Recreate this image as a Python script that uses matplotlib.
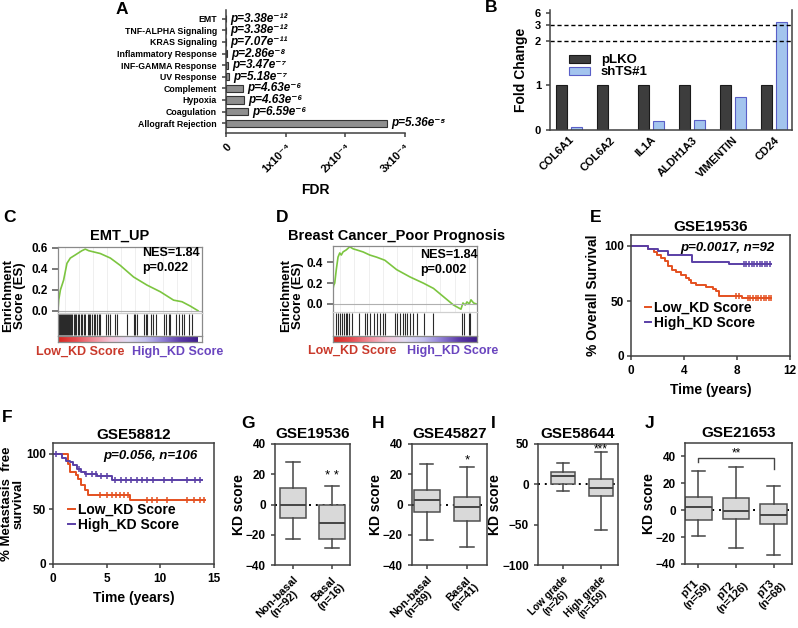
import numpy as np
import matplotlib
matplotlib.use('Agg')
import matplotlib.pyplot as plt
from matplotlib.colors import LinearSegmentedColormap

plt.rcParams['font.family'] = ['Liberation Sans', 'DejaVu Sans']
plt.rcParams['font.weight'] = 'bold'
plt.rcParams['axes.labelweight'] = 'bold'
plt.rcParams['axes.titleweight'] = 'bold'
plt.rcParams['axes.linewidth'] = 1.1
plt.rcParams['axes.edgecolor'] = '#404040'
plt.rcParams['xtick.major.width'] = 1.1
plt.rcParams['ytick.major.width'] = 1.1
plt.rcParams['xtick.major.size'] = 3
plt.rcParams['ytick.major.size'] = 3
plt.rcParams['xtick.color'] = '#404040'
plt.rcParams['ytick.color'] = '#404040'
plt.rcParams['xtick.labelcolor'] = 'black'
plt.rcParams['ytick.labelcolor'] = 'black'

# ---- A: hallmark enrichment
a_terms = ['EMT', 'TNF-ALPHA Signaling', 'KRAS Signaling', 'Inflammatory Response',
           'INF-GAMMA Response', 'UV Response', 'Complement', 'Hypoxia',
           'Coagulation', 'Allograft Rejection']
a_fdr = [0.001e-4, 0.001e-4, 0.004e-4, 0.01e-4, 0.03e-4, 0.05e-4,
         0.28e-4, 0.30e-4, 0.37e-4, 2.7e-4]
a_p = ['p=3.38e⁻¹²', 'p=3.38e⁻¹²', 'p=7.07e⁻¹¹', 'p=2.86e⁻⁸', 'p=3.47e⁻⁷',
       'p=5.18e⁻⁷', 'p=4.63e⁻⁶', 'p=4.63e⁻⁶', 'p=6.59e⁻⁶', 'p=5.36e⁻⁵']
a_ticks = [0, 1e-4, 2e-4, 3e-4]
a_ticklabels = ['0', '1x10⁻⁴', '2x10⁻⁴', '3x10⁻⁴']

# ---- B: fold change
b_genes = ['COL6A1', 'COL6A2', 'IL1A', 'ALDH1A3', 'VIMENTIN', 'CD24']
b_plko = [1, 1, 1, 1, 1, 1]
b_shts = [0.06, 0.01, 0.195, 0.22, 0.75, 3.6]
b_yticks = [0, 1, 2, 3, 6]

# ---- C / D: GSEA running scores
c_x = [0, 0.005, 0.017, 0.040, 0.064, 0.088, 0.124, 0.171, 0.195, 0.219, 0.302,
       0.374, 0.445, 0.540, 0.636, 0.731, 0.826, 0.886, 0.945, 1.0]
c_es = [0, 0.10, 0.196, 0.29, 0.45, 0.50, 0.53, 0.57, 0.585, 0.57, 0.543,
        0.50, 0.43, 0.32, 0.243, 0.18, 0.10, 0.085, 0.044, 0.0]
c_hits = [0.005, 0.012, 0.019, 0.026, 0.033, 0.040, 0.048, 0.055, 0.062, 0.069,
          0.076, 0.083, 0.093, 0.102, 0.112, 0.121, 0.131, 0.143, 0.152, 0.164,
          0.174, 0.183, 0.193, 0.212, 0.221, 0.231, 0.243, 0.255, 0.267, 0.279,
          0.293, 0.302, 0.345, 0.357, 0.369, 0.410, 0.419, 0.493, 0.540, 0.552,
          0.564, 0.612, 0.626, 0.636, 0.664, 0.679, 0.698, 0.755, 0.774, 0.790,
          0.802, 0.843, 0.862, 0.886, 0.898, 0.936, 0.957]
d_x = [0, 0.001, 0.005, 0.012, 0.023, 0.035, 0.047, 0.058, 0.070, 0.093, 0.117,
       0.140, 0.164, 0.210, 0.257, 0.304, 0.362, 0.444, 0.537, 0.631, 0.701,
       0.771, 0.841, 0.893, 0.907, 0.923, 0.935, 0.951, 0.963, 0.981, 1.0]
d_es = [0, 0.15, 0.18, 0.20, 0.33, 0.45, 0.49, 0.47, 0.50, 0.52, 0.55,
        0.53, 0.52, 0.50, 0.47, 0.45, 0.42, 0.33, 0.26, 0.20, 0.15,
        0.07, -0.01, -0.05, 0.01, -0.01, 0.02, 0.0, 0.04, 0.01, 0.0]
d_hits = [0.023, 0.035, 0.051, 0.065, 0.079, 0.089, 0.098, 0.112, 0.136, 0.182,
          0.222, 0.234, 0.257, 0.285, 0.304, 0.327, 0.346, 0.362, 0.432, 0.449,
          0.467, 0.486, 0.502, 0.519, 0.537, 0.556, 0.584, 0.636, 0.696, 0.900,
          0.916, 0.946, 0.958]

# ---- E / F: Kaplan-Meier
e_low_t = [0, 1.25, 1.7, 1.94, 2.3, 2.56, 2.8, 3.06, 3.4, 3.8, 4.17, 4.35, 4.55,
           4.9, 5.66, 6.16, 6.4, 6.66, 8.4, 10.6]
e_low_s = [100, 97.6, 95, 91.8, 89, 86, 82, 78.2, 76, 74, 71, 69, 66.7,
           64.8, 63, 61, 58.8, 54.5, 52.4, 52.4]
e_low_cens = [7.9, 8.15, 8.8, 9.0, 9.2, 9.4, 9.6, 9.8, 10.0, 10.2, 10.4, 10.6]
e_high_t = [0, 1.25, 2.06, 2.8, 4.62, 7.4, 10.6]
e_high_s = [100, 97.6, 95.8, 91.8, 85.2, 83.3, 83.3]
e_high_cens = [8.5, 8.7, 8.9, 9.1, 9.3, 9.5, 9.7, 9.9, 10.1, 10.3, 10.5]

f_low_t = [0, 1.4, 1.6, 2.1, 2.35, 2.65, 3.0, 3.3, 7.2, 14.2]
f_low_s = [100, 91, 83.5, 80.5, 77.5, 71.5, 67, 62.5, 58, 58]
f_low_cens = [4.4, 5.0, 5.5, 5.9, 6.25, 6.6, 7.0, 8.75, 9.2, 9.7, 10.6, 12.5,
              13.1, 13.7, 14.1]
f_high_t = [0, 0.8, 1.25, 1.6, 1.9, 2.25, 2.65, 3.0, 4.06, 5.47, 13.9]
f_high_s = [100, 96, 94, 92.5, 90.4, 86.5, 84, 82, 79.6, 76.6, 76.6]
f_high_cens = [0.3, 2.4, 3.1, 3.6, 4.0, 4.5, 5.0, 5.8, 6.3, 6.8, 7.3, 7.8, 8.3,
               8.8, 9.3, 10.3, 11.1, 12.5, 13.2, 13.7]

# ---- G-J: KD score boxes (whislo, q1, med, q3, whishi)
g_labels = ['Non-basal\n(n=92)', 'Basal\n(n=16)']
g_stats = [[-22.7, -8.9, 0, 10.7, 27.8], [-28.9, -22.7, -12.2, 0, 12]]
h_labels = ['Non-basal\n(n=89)', 'Basal\n(n=41)']
h_stats = [[-23.3, -4.9, 3.3, 9.5, 26.7], [-28.4, -10.7, -1.8, 5.1, 25.1]]
i_labels = ['Low grade\n(n=26)', 'High grade\n(n=159)']
i_stats = [[-8.3, 0, 10.4, 15.8, 27], [-56, -14.2, -5, 6.25, 39.6]]
j_labels = ['pT1\n(n=59)', 'pT2\n(n=126)', 'pT3\n(n=68)']
j_stats = [[-19.25, -7.5, 2.75, 9.5, 29.5], [-28, -6.75, -0.25, 8.75, 32],
           [-33.5, -10, -3.5, 4.5, 18.25]]
j_bracket = [35.5, 38.5, 31]

RED = '#e4501f'
PURPLE = '#5a3fa6'

W, H = 798, 628
fig = plt.figure(figsize=(W / 100, H / 100), dpi=100)


def box(l, t, r, b):
    return fig.add_axes([l / W, 1 - b / H, (r - l) / W, (b - t) / H])


def ftext(x, y, s, **kw):
    fig.text(x / W, 1 - y / H, s, **kw)


def letter(x, y, s):
    ftext(x, y, s, fontsize=12.5, fontweight='bold', va='center', ha='left')


# ================= A
axA = box(226, 10, 405, 133)
ya = np.arange(len(a_terms))
axA.barh(ya, a_fdr, height=0.62, color='#8f8f8f', edgecolor='#333333', linewidth=0.8)
axA.set_xlim(0, 3e-4)
axA.set_ylim(len(a_terms) - 0.15, -0.75)
axA.set_yticks(ya)
axA.set_yticklabels(a_terms, fontsize=6.3)
axA.set_xticks(a_ticks)
axA.set_xticklabels(a_ticklabels, rotation=45, ha='right', rotation_mode='anchor', fontsize=8)
for i, (v, p) in enumerate(zip(a_fdr, a_p)):
    axA.text(v + 0.07e-4, i, p, fontsize=8.5, style='italic', va='center', clip_on=False)
axA.spines['top'].set_visible(False)
axA.spines['right'].set_visible(False)
axA.set_xlabel('FDR', fontsize=10, labelpad=6)
letter(116, 9, 'A')

# ================= B
brk_v = [-1, 0, 2, 3, 10]
brk_p = [-1, 0, 2, 2.36, 2.99]


def fwd(v):
    return np.interp(v, brk_v, brk_p)


def inv(p):
    return np.interp(p, brk_p, brk_v)


axB = box(550, 10, 792, 130)
axB.set_yscale('function', functions=(fwd, inv))
xb = np.arange(len(b_genes))
axB.bar(xb - 0.18, b_plko, width=0.26, color='#3d3d3d', edgecolor='#1a1a1a',
        linewidth=0.8, label='pLKO')
axB.bar(xb + 0.18, b_shts, width=0.26, color='#a3c4ee', edgecolor='#5a5fc8',
        linewidth=0.8, label='shTS#1')
for yv in (2, 3):
    axB.axhline(yv, color='black', ls='--', lw=1, dashes=(3, 2))
axB.set_ylim(0, 6.7)
axB.set_xlim(-0.46, 5.44)
axB.set_yticks(b_yticks)
axB.set_yticklabels([str(v) for v in b_yticks], fontsize=8)
axB.yaxis.set_minor_locator(plt.NullLocator())
axB.set_xticks(xb)
axB.set_xticklabels(b_genes, rotation=45, ha='right', rotation_mode='anchor', fontsize=8)
axB.tick_params(axis='x', length=0)
axB.spines['top'].set_visible(False)
axB.set_ylabel('Fold Change', fontsize=10, labelpad=5)
axB.legend(loc='center left', bbox_to_anchor=(0.03, 0.53), frameon=False, fontsize=9.5,
           handlelength=1.6, handleheight=0.55, labelspacing=0.0, handletextpad=0.8)
letter(485, 8, 'B')

# ================= C, D
gsea_cmap = LinearSegmentedColormap.from_list(
    'gsea', ['#d7261e', '#e64a4e', '#f08a96', '#f4c6d8', '#e2dcf3', '#c3c1ee',
             '#8f7fd6', '#5b3aa8', '#3f1d8a'])


def draw_gsea(l, r, t, b_es, b_hit, b_bar, xs, ys, hits, xmax, ylim, yticks,
              nes_x, nes_y):
    ax = box(l, t, r, b_es)
    ax.plot(xs, ys, color='#7cc540', lw=1.2)
    ax.axhline(0, color='#b0b0b0', lw=0.8)
    ax.set_xlim(0, xmax)
    ax.set_ylim(*ylim)
    ax.set_xticks(np.arange(0.05, 1.0, 0.1))
    ax.grid(axis='x', color='#ececec', lw=0.6)
    ax.tick_params(axis='x', length=0, labelbottom=False)
    ax.set_yticks(yticks)
    ax.set_yticklabels(['%.1f' % v for v in yticks], fontsize=8.5)
    ax.tick_params(axis='y', length=4, color='#555555')
    for s in ax.spines.values():
        s.set_color('#8a8a8a')
        s.set_linewidth(0.9)
    ax.spines['bottom'].set_visible(False)
    ftext(nes_x, nes_y, 'NES=1.84', fontsize=9, va='center')

    axh = box(l, b_es, r, b_hit)
    axh.vlines(hits, 0.04, 0.96, color='#2a2a2a', lw=0.8)
    axh.set_xlim(0, xmax)
    axh.set_ylim(0, 1)
    axh.set_xticks([])
    axh.set_yticks([])
    for s in axh.spines.values():
        s.set_color('#8a8a8a')
        s.set_linewidth(0.9)
    axh.spines['top'].set_color('#d0d0d0')
    axh.spines['bottom'].set_visible(False)

    axc = box(l, b_hit, r, b_bar)
    axc.imshow(np.linspace(0, 1, 256)[None, :], aspect='auto', cmap=gsea_cmap,
               extent=(0, 1, 0, 1))
    axc.set_xlim(0, xmax)
    axc.set_xticks([])
    axc.set_yticks([])
    for s in axc.spines.values():
        s.set_color('#8a8a8a')
        s.set_linewidth(0.9)
    return ax


draw_gsea(58, 202, 247, 313, 336, 342, c_x, c_es, c_hits, 1.029,
          (-0.022, 0.605), [0.0, 0.2, 0.4, 0.6], 142, 253)
ftext(142, 268, 'p=0.022', fontsize=9, va='center')
ftext(120, 236, 'EMT_UP', fontsize=10.5, ha='center', va='center')
ftext(80, 352, 'Low_KD Score', fontsize=9, ha='center', va='center', color='#c9392b')
ftext(178, 352, 'High_KD Score', fontsize=9, ha='center', va='center', color='#6a45bf')
ftext(14, 296, 'Enrichment\nScore (ES)', fontsize=9.5, ha='center', va='center',
      rotation=90, linespacing=1.0)
letter(3, 218, 'C')

draw_gsea(333, 477, 246, 312, 336, 342, d_x, d_es, d_hits, 1.005,
          (-0.077, 0.557), [0.0, 0.2, 0.4], 420, 255)
ftext(420, 270, 'p=0.002', fontsize=9, va='center')
ftext(397, 236, 'Breast Cancer_Poor Prognosis', fontsize=10.5, ha='center', va='center')
ftext(352, 351, 'Low_KD Score', fontsize=9, ha='center', va='center', color='#c9392b')
ftext(453, 351, 'High_KD Score', fontsize=9, ha='center', va='center', color='#6a45bf')
ftext(292, 296, 'Enrichment\nScore (ES)', fontsize=9.5, ha='center', va='center',
      rotation=90, linespacing=1.0)
letter(276, 218, 'D')


# ================= E, F
def step_at(t, s, c):
    idx = np.searchsorted(t, c, side='right') - 1
    return np.asarray(s)[idx]


def draw_km(ax, lt, ls_, lc, ht, hs, hc, xmax, xticks, ptxt, leg_anchor):
    l1, = ax.step(lt, ls_, where='post', color=RED, lw=1.4, label='Low_KD Score')
    ax.plot(lc, step_at(lt, ls_, lc), ls='none', marker='|', ms=4.5, mew=1.1, color=RED)
    l2, = ax.step(ht, hs, where='post', color=PURPLE, lw=1.4, label='High_KD Score')
    ax.plot(hc, step_at(ht, hs, hc), ls='none', marker='|', ms=4.5, mew=1.1, color=PURPLE)
    ax.set_xlim(0, xmax)
    ax.set_ylim(0, 110)
    ax.set_xticks(xticks)
    ax.set_yticks([0, 50, 100])
    ax.tick_params(labelsize=8.5)
    ax.tick_params(axis='y', pad=2)
    ax.text(0.9, 0.895, ptxt, transform=ax.transAxes, ha='right', va='center',
            fontsize=9.5, style='italic')
    ax.legend(handles=[l1, l2], loc='lower left', bbox_to_anchor=leg_anchor,
              frameon=False, fontsize=10, handlelength=0.5, handletextpad=0.2,
              labelspacing=0.1, borderaxespad=0)
    ax.set_xlabel('Time (years)', fontsize=10)


axE = box(631, 235, 790, 356)
draw_km(axE, e_low_t, e_low_s, e_low_cens, e_high_t, e_high_s, e_high_cens,
        12, [0, 4, 8, 12], 'p=0.0017, n=92', (0.05, 0.17))
axE.set_ylabel('% Overall Survival', fontsize=10, labelpad=3)
axE.set_title('GSE19536', fontsize=11, pad=3)
letter(590, 218, 'E')

axF = box(53, 443, 214, 564)
draw_km(axF, f_low_t, f_low_s, f_low_cens, f_high_t, f_high_s, f_high_cens,
        15, [0, 5, 10, 15], 'p=0.056, n=106', (0.06, 0.22))
axF.set_ylabel('% Metastasis  free\nsurvival', fontsize=9.5, labelpad=1, linespacing=0.95)
axF.set_title('GSE58812', fontsize=11, pad=3)
letter(2, 417, 'F')


# ================= G-J
def draw_box(ax, stats, labels, ylim, yticks, xlim, width, lab_size=8):
    bx = [dict(whislo=s[0], q1=s[1], med=s[2], q3=s[3], whishi=s[4]) for s in stats]
    pos = np.arange(1, len(stats) + 1)
    ax.axhline(0, color='black', lw=1.4, ls=(0, (1, 2.5)), zorder=0)
    ax.bxp(bx, positions=pos, widths=width, patch_artist=True, showfliers=False,
           boxprops=dict(facecolor='#d9d9d9', edgecolor='#505050', linewidth=1.1),
           medianprops=dict(color='#454545', linewidth=1.4),
           whiskerprops=dict(color='#454545', linewidth=1.1),
           capprops=dict(color='#454545', linewidth=1.1))
    ax.set_xlim(*xlim)
    ax.set_ylim(*ylim)
    ax.set_yticks(yticks)
    ax.set_xticks(pos)
    ax.set_xticklabels(labels, rotation=45, ha='right', rotation_mode='anchor',
                       fontsize=lab_size, multialignment='center', linespacing=1.05)
    ax.tick_params(axis='y', labelsize=8.5)
    ax.set_ylabel('KD score', fontsize=10, labelpad=0)


axG = box(275, 444, 350, 565)
draw_box(axG, g_stats, g_labels, (-40, 40), [-40, -20, 0, 20, 40], (0.54, 2.46), 0.68)
axG.text(2, 19, '* *', ha='center', va='center', fontsize=9.5, fontweight='normal')
axG.set_title('GSE19536', fontsize=11, pad=4)
letter(241, 423, 'G')

axH = box(412, 444, 487, 565)
draw_box(axH, h_stats, h_labels, (-40, 40), [-40, -20, 0, 20, 40], (0.63, 2.5), 0.66)
axH.text(2, 29, '*', ha='center', va='center', fontsize=9.5, fontweight='normal')
axH.set_title('GSE45827', fontsize=11, pad=4)
letter(372, 423, 'H')

axI = box(538, 444, 618, 565)
draw_box(axI, i_stats, i_labels, (-100, 50), [-100, -50, 0, 50], (0.35, 2.45), 0.63,
         lab_size=7.3)
axI.text(2, 43, '***', ha='center', va='center', fontsize=8.5, fontweight='normal')
axI.set_title('GSE58644', fontsize=11, pad=4)
letter(491, 423, 'I')

axJ = box(685, 443, 792, 564)
draw_box(axJ, j_stats, j_labels, (-40, 50), [-40, -20, 0, 20, 40], (0.645, 3.49), 0.71)
axJ.plot([1, 1, 3, 3], [j_bracket[0], j_bracket[1], j_bracket[1], j_bracket[2]],
         color='#454545', lw=1)
axJ.text(2, 42, '**', ha='center', va='center', fontsize=8.5, fontweight='normal')
axJ.set_title('GSE21653', fontsize=11, pad=4)
letter(645, 423, 'J')

fig.savefig('out.png', dpi=100)
